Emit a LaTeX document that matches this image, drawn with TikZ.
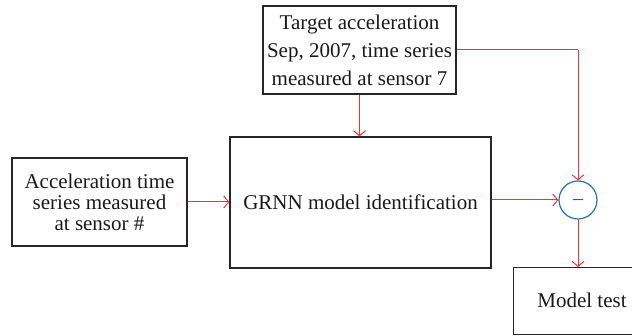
\documentclass[tikz,border=0pt]{standalone}
\usepackage{fontspec}
\setmainfont{Liberation Serif}
\usetikzlibrary{arrows.meta}
\definecolor{arrred}{RGB}{240,50,50}
\definecolor{cblue}{RGB}{40,110,180}
\begin{document}
\begin{tikzpicture}[x=1pt,y=-1pt,
  box/.style={draw=black!85,line width=1.3pt,inner sep=0pt,align=center,text=black!90,font=\fontsize{21}{28}\selectfont},
  conn/.style={draw=arrred,line width=1pt,-{Straight Barb[length=5pt,width=12pt]}},
  line/.style={draw=arrred,line width=1pt}]
\useasboundingbox (0,0) rectangle (632,336);
\clip (0,0) rectangle (632,336);
\node[box,minimum width=175pt,minimum height=88pt,font=\fontsize{21}{21}\selectfont] (src) at (99.5,202) {Acceleration time\\series measured\\at sensor \#};
\node[box,minimum width=261pt,minimum height=131pt] (grnn) at (360.5,202.5) {GRNN model identification};
\node[box,minimum width=193pt,minimum height=88pt] (tgt) at (359.5,50) {Target acceleration\\Sep, 2007, time series\\measured at sensor 7};
\node[draw=cblue,line width=1.2pt,circle,minimum size=38pt,inner sep=0pt,font=\fontsize{18}{20}\selectfont] (sub) at (578,200) {$-$};
\node[box,minimum width=150pt,minimum height=67pt,anchor=north west] (test) at (513,267) {};
\node[font=\fontsize{21}{24}\selectfont,text=black!90] (testlbl) at (582,300) {Model test};
\coordinate (corner) at (578,50);
\draw[conn] (src.east) -- (src.east -| grnn.west);
\draw[conn] (tgt.south) -- (tgt.south |- grnn.north);
\draw[conn] (grnn.east |- sub.west) -- (sub.west);
\draw[line] (tgt.east |- corner) -- (corner);
\draw[conn] (corner) -- (sub.north);
\draw[conn] (sub.south) -- (sub.south |- test.north);
\end{tikzpicture}
\end{document}
